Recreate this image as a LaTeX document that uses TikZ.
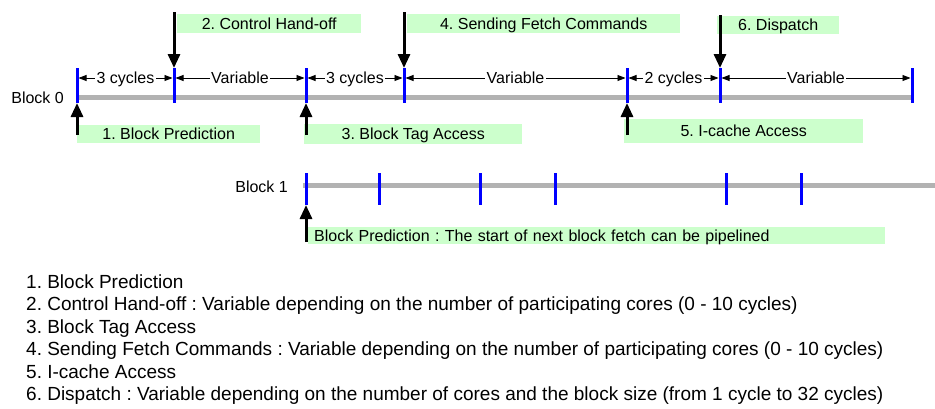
\documentclass[tikz,border=0pt]{standalone}
\usepackage{fontspec}
\setmainfont{Liberation Sans}
\usetikzlibrary{arrows.meta}
\definecolor{lgreen}{HTML}{CCFFCC}
\definecolor{tgray}{HTML}{B2B2B2}
\frenchspacing
\begin{document}
\begin{tikzpicture}[x=1pt,y=-1pt,
  lbl/.style={fill=lgreen, inner sep=0pt, anchor=north west, font=\fontsize{16}{19}\selectfont, text height=11.5pt, text depth=0pt},
  timeline/.style={draw=tgray, line width=5pt},
  tickmark/.style={draw=blue, line width=3pt},
  dim/.style={draw=black, line width=0.8pt, {Triangle[length=8pt,width=6pt]}-{Triangle[length=8pt,width=6pt]}, shorten <=1.5pt, shorten >=1.5pt},
  dimlbl/.style={fill=white, inner xsep=1.5pt, inner ysep=1pt, font=\fontsize{16}{19}\selectfont, text height=11.5pt, text depth=0pt},
  bigarrow/.style={draw=black, line width=3pt, -{Triangle[length=14pt,width=12pt]}},
  blk/.style={inner sep=0pt, anchor=base east, font=\fontsize{16}{19}\selectfont},
  note/.style={inner sep=0pt, anchor=base west, font=\fontsize{19}{22.5}\selectfont}
]
\useasboundingbox (0,0) rectangle (935,408);

% Block 0 coordinates
\foreach \i/\x in {0/77,1/174,2/306,3/404,4/627,5/720,6/912}{
  \coordinate (t\i) at (\x,68);
  \coordinate (b\i) at (\x,103);
  \coordinate (m\i) at (\x,78);
}
% Block 1 coordinates
\foreach \i/\x in {0/306,1/379,2/480,3/555,4/726,5/801}{
  \coordinate (ct\i) at (\x,173);
  \coordinate (cb\i) at (\x,205);
}

% timelines
\coordinate (L0s) at (77,97);
\coordinate (L0e) at (912,97);
\coordinate (L1s) at (303,185);
\coordinate (L1e) at (935,185);
\draw[timeline] (L0s) -- (L0e);
\draw[timeline] (L1s) -- (L1e);

% block labels
\node[blk] (blk0) at (64,103.5) {Block 0};
\node[blk] (blk1) at (288,192) {Block 1};

% label boxes
\node[lbl, minimum width=184pt, minimum height=19pt] (bx2) at (177,14) {2. Control Hand-off};
\node[lbl, minimum width=273pt, minimum height=19pt] (bx4) at (407,14) {4. Sending Fetch Commands};
\node[lbl, minimum width=122pt, minimum height=18pt] (bx6) at (717,16) {6. Dispatch};
\node[lbl, minimum width=183pt, minimum height=18pt] (bx1) at (77,125) {1. Block Prediction};
\node[lbl, minimum width=218pt, minimum height=20pt] (bx3) at (304,124) {3. Block Tag Access};
\node[lbl, minimum width=239pt, minimum height=24pt] (bx5) at (624,119) {5. I-cache Access};
\node[lbl, minimum height=17pt, text width=565pt, inner xsep=6pt, align=left] (bxp) at (308,227) {Block Prediction : The start of next block fetch can be pipelined};

% ticks
\foreach \i in {0,...,6}{ \draw[tickmark] (t\i) -- (b\i); }
\foreach \i in {0,...,5}{ \draw[tickmark] (ct\i) -- (cb\i); }

% dimension arrows
\draw[dim] (m0) -- node[dimlbl] (d01) {3 cycles} (m1);
\draw[dim] (m1) -- node[dimlbl] (d12) {Variable} (m2);
\draw[dim] (m2) -- node[dimlbl] (d23) {3 cycles} (m3);
\draw[dim] (m3) -- node[dimlbl] (d34) {Variable} (m4);
\draw[dim] (m4) -- node[dimlbl] (d45) {2 cycles} (m5);
\draw[dim] (m5) -- node[dimlbl] (d56) {Variable} (m6);

% big arrows
\coordinate (s2) at (174,12);
\coordinate (s4) at (404,12);
\coordinate (s6) at (720,15);
\coordinate (p1) at (77,135);
\coordinate (p3) at (306,135);
\coordinate (p5) at (627,135);
\coordinate (pb) at (306,242);
\draw[bigarrow] (s2) -- (t1);
\draw[bigarrow] (s4) -- (t3);
\draw[bigarrow] (s6) -- (t5);
\draw[bigarrow] (p1) -- (b0);
\draw[bigarrow] (p3) -- (b2);
\draw[bigarrow] (p5) -- (b4);
\draw[bigarrow] (pb) -- (cb0);

% notes
\node[note] (n1) at (26,288.3) {1. Block Prediction};
\node[note] (n2) at (26,310.8) {2. Control Hand-off : Variable depending on the number of participating cores (0 - 10 cycles)};
\node[note] (n3) at (26,333.3) {3. Block Tag Access};
\node[note] (n4) at (26,355.8) {4. Sending Fetch Commands : Variable depending on the number of participating cores (0 - 10 cycles)};
\node[note] (n5) at (26,378.3) {5. I-cache Access};
\node[note] (n6) at (26,400.8) {6. Dispatch : Variable depending on the number of cores and the block size (from 1 cycle to 32 cycles)};
\end{tikzpicture}
\end{document}
